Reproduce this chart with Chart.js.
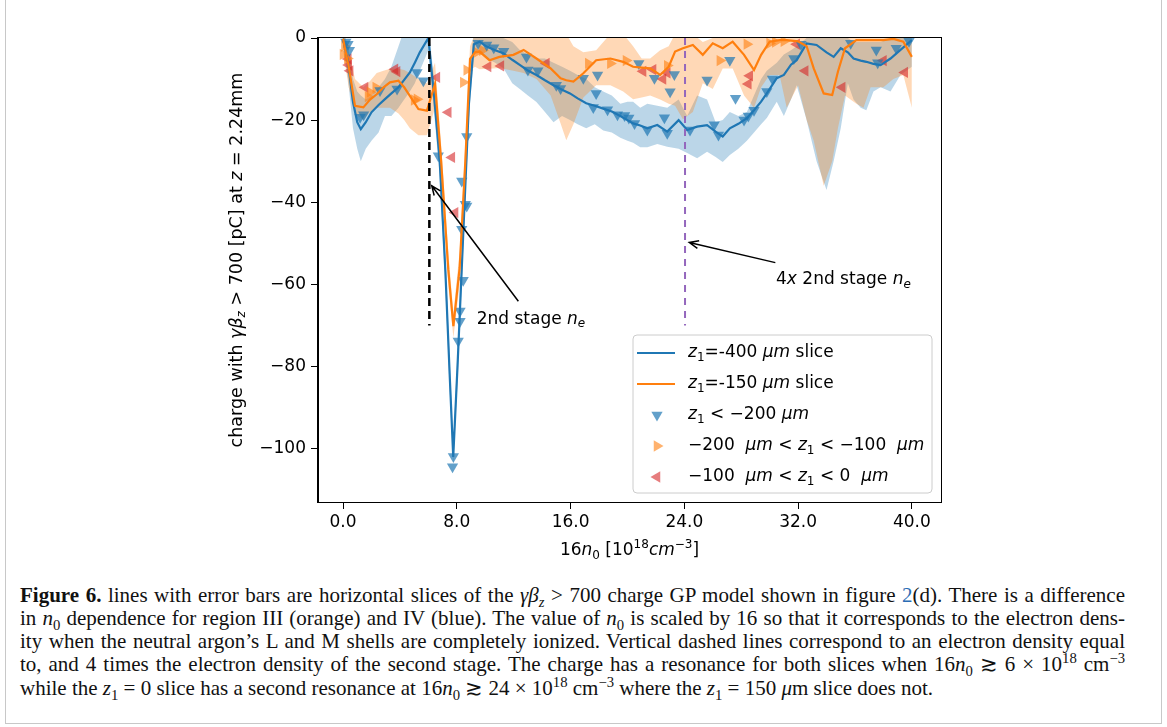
<!DOCTYPE html>
<html>
<head>
<meta charset="utf-8">
<script src="https://cdn.jsdelivr.net/npm/chart.js@4.4.0/dist/chart.umd.min.js"></script>
<style>
  body { margin: 0; background: #fff; width: 1167px; height: 727px; position: relative; overflow: hidden; }
  #frame { position: absolute; left: 5px; top: -3px; width: 1155px; height: 725px; border: 1px solid #c8c8c8; }
  #chart { position: absolute; left: 0; top: 0; }
  .cap { position: absolute; left: 20px; width: 1105px; font-family: 'Liberation Serif', 'Times New Roman', serif;
         font-size: 21px; line-height: 23px; color: #111; text-align: justify; text-align-last: justify; white-space: nowrap; }
  .cap.last { text-align-last: left; }
  .cap sub, .cap sup { font-size: 70%; line-height: 0; }
  .cap a { color: #2a6cb4; text-decoration: none; }
</style>
</head>
<body>
<div id="frame"></div>
<canvas id="chart" width="1167" height="580"></canvas>

<div class="cap" style="top:584px"><b>Figure 6.</b> lines with error bars are horizontal slices of the <i>γβ<sub>z</sub></i> &gt; 700 charge GP model shown in figure <a>2</a>(d). There is a difference</div>
<div class="cap" style="top:607px">in <i>n</i><sub>0</sub> dependence for region III (orange) and IV (blue). The value of <i>n</i><sub>0</sub> is scaled by 16 so that it corresponds to the electron dens-</div>
<div class="cap" style="top:630px">ity when the neutral argon’s L and M shells are completely ionized. Vertical dashed lines correspond to an electron density equal</div>
<div class="cap" style="top:653px">to, and 4 times the electron density of the second stage. The charge has a resonance for both slices when 16<i>n</i><sub>0</sub> ≳ 6 × 10<sup>18</sup> cm<sup>−3</sup></div>
<div class="cap last" style="top:677px">while the <i>z</i><sub>1</sub> = 0 slice has a second resonance at 16<i>n</i><sub>0</sub> ≳ 24 × 10<sup>18</sup> cm<sup>−3</sup> where the <i>z</i><sub>1</sub> = 150 <i>μ</i>m slice does not.</div>

<script>
// tick values
const xTicks = [0, 8, 16, 24, 32, 40];
const yTicks = [0, -20, -40, -60, -80, -100];

// z1 = -400 um slice (blue): x, line, lower and upper error band
const blueX = [0.0, 0.35, 0.7, 1.0, 1.25, 1.6, 2.0, 2.5, 2.95, 3.4, 3.9, 4.3, 4.7, 5.05, 5.4, 6.0, 6.4, 6.8, 7.2, 7.5, 7.75,
  8.05, 8.35, 8.6, 8.85, 9.2, 9.6, 10.1, 10.7, 11.27, 11.9, 12.45, 13.0, 13.6, 14.2, 14.8, 15.4, 15.96, 16.5, 17.1, 17.7,
  18.3, 18.9, 19.5, 20.0, 20.4, 20.9, 21.4, 22.1, 22.8, 23.6, 24.2, 24.9, 25.6, 26.2, 26.7, 27.2, 27.8, 28.4, 28.9, 29.4,
  29.8, 30.5, 31.0, 31.5, 31.9, 32.6, 33.3, 34.0, 34.5, 35.0, 35.5, 35.9, 36.4, 36.8, 37.3, 37.8, 38.5, 39.2, 40.0];
const blueLine = [-0.2, -5.9, -15.6, -20.5, -22.2, -20.5, -18.1, -16.3, -14.9, -13.5, -12.0, -10.2, -8.4, -6.0, -3.5, 0, -14, -30, -57, -82, -102,
  -80, -56, -36, -16, -1.5, -0.9, -2.1, -3.0, -3.7, -5.3, -6.6, -7.9, -9.0, -10.3, -11.5, -12.6, -13.5, -14.7, -15.9, -16.5,
  -17.2, -17.9, -19.0, -20.0, -20.8, -21.3, -22.0, -21.2, -22.8, -20.0, -22.4, -21.6, -21.2, -22.8, -24.0, -22.0, -20.9, -19.5, -17.6, -15.5,
  -13.5, -9.8, -9.0, -6.5, -5.4, -1.3, -1.7, -3.5, -4.6, -2.5, -3.5, -5.0, -5.5, -5.8, -6.3, -6.6, -5.0, -2.9, -0.5];
const blueLow = [-2, -10, -22, -27, -30, -27, -25, -23, -19, -19, -17, -15, -13, -11, -8, -3, -18, -34, -61, -86, -104,
  -84, -60, -40, -20, -4, -3, -5, -6, -7.3, -11, -12.5, -14, -15.6, -18, -20.5, -19, -20, -21, -22, -21,
  -22.5, -23, -24.3, -25, -25.5, -26.6, -26.6, -25.8, -26.5, -27, -28, -29.3, -27.7, -29, -30.2, -28.5, -27, -25, -23, -21,
  -19.5, -15.5, -19, -15, -11.5, -20, -30, -37, -30, -22, -11, -15, -17, -17.6, -13, -12, -13, -9, -7];
const blueHigh = [2, -2, -10, -13, -14, -15, -14, -12, -10, -7, -2, 2, 2, 2, 2, 3, -10, -26, -53, -78, -99,
  -76, -52, -32, -12, 2, 2, 1, 0, 0, -1, -3, -4, -5, -5, -6, -7, -8, -9, -10, -12,
  -13, -14, -16, -15.5, -15.5, -17, -16, -16.5, -17, -15, -19, -14, -15, -20.5, -20, -18, -19, -18, -14, -10,
  -8, -6, -4, -3, -2, 0, 0, 0, 0, 0, 0, -1, -1, -1, -1, -1, 0, 2, 3];

// z1 = -150 um slice (orange)
const orangeX = [0.0, 0.4, 0.84, 1.43, 1.9, 2.37, 2.85, 3.3, 3.9, 4.3, 4.7, 5.3, 5.9, 6.47, 6.9, 7.4, 7.76, 8.2, 8.6, 8.93,
  9.28, 9.6, 10.3, 11.0, 11.98, 12.7, 13.6, 14.6, 15.3, 15.7, 16.2, 16.9, 17.8, 18.8, 19.7, 20.4, 21.0, 21.6, 22.3, 22.9,
  23.35, 23.9, 24.6, 25.3, 26.0, 26.7, 27.4, 28.2, 28.9, 29.4, 30.0, 30.7, 31.2, 32.0, 32.6, 33.1, 33.8, 34.4, 34.8, 35.3,
  36.1, 36.6, 37.1, 38.0, 38.7, 39.4, 40.0];
const orangeLine = [-0.2, -7, -16.5, -16.9, -15, -13.7, -12, -10.8, -10.4, -12, -14.1, -17.3, -17.7, -11.2, -30, -56.3, -70.2, -56, -30, -5.1,
  -3.5, -3.3, -5.4, -4.6, -4.1, -2.9, -5.0, -7.4, -9.8, -10.3, -10.6, -8.6, -5.4, -5.0, -5.8, -7.0, -7.2, -7.4, -9.0, -7.0,
  -3.3, -2.5, -1.7, -4.1, -1.3, -2.5, -0.9, -4.1, -7.8, -4.1, -0.9, -0.5, -0.5, -0.8, -2, -7.4, -13.5, -13.9, -8.2, -2.5,
  -0.5, -0.5, -0.5, -0.5, -0.2, -0.9, -4.6];
const orangeLow = [-3, -12, -18.5, -20, -18, -17, -17, -17, -18.4, -20, -22, -23.7, -23.7, -17, -34, -60, -73, -60, -34, -8,
  -7, -7.6, -7.5, -7.3, -8, -8.5, -10, -14, -20.8, -24.9, -21, -14.5, -11.5, -11.5, -13, -14.9, -14.5, -14, -15, -16,
  -16.5, -19.8, -18, -11, -12.4, -7.4, -7.4, -14, -17, -12, -9, -9, -17, -11.5, -20, -25, -36, -30, -22, -14,
  -16, -17, -12, -12, -10, -9, -17];
const orangeHigh = [2, -3, -10, -12, -10.5, -8.5, -8, -7.5, -7.5, -7.8, -8.5, -10, -11, -6, -26, -52, -67, -52, -26, -2,
  1, 1, 1, 1, 1, 1, 1, 1, 1, 1, -2, -3.5, -3, 1, 1, -2, -5, -5, -3, -2,
  1, 1, 1, -1, 0, 1, 1, 1, 1, 1, 1, 1, 1, 1, 1, 1, 0, 0, 1, 1,
  1, 1, 1, 1, 1, 1, 1];

// markers: z1 < -200 um (down triangles)
const downX = [0.2, 0.35, 0.45, 1.2, 1.45, 2.6, 3.8, 5.2, 5.65, 6.7, 7.7, 7.76, 8.1, 8.23, 8.23, 8.35, 8.45, 8.6, 8.7, 8.7, 8.35,
  9.5, 10.1, 10.6, 11.3, 12.9, 13.0, 13.7, 15.0, 15.3, 16.9, 17.6, 17.8, 17.9, 18.6, 19.3, 19.8, 20.1,
  20.8, 20.5, 21.4, 21.9, 22.6, 22.8, 23.0, 23.3, 24.4, 25.6, 26.1, 26.4, 27.2, 27.6, 28.2, 28.5, 28.9, 29.8, 30.2,
  31.7, 32.2, 35.7, 37.5, 37.6, 38.9, 39.8];
const downY = [-1, -1.5, -3, -19.3, -18.7, -12.8, -12.4, -8.4, -10.4, -28.7, -104.4, -101.9, -73.8, -69, -66.5, -46.6, -59, -40.5, -40.9, -24, -34.8,
  -1.3, -1.7, -2.4, -3.2, -4.6, -7.8, -8.0, -11.5, -12.3, -9.8, -16.9, -13.5, -9.0, -17.5, -18.7, -18.9, -19.5,
  -6.2, -20.8, -22.4, -9.8, -19.4, -23.2, -13.1, -8.9, -22.4, -10.2, -21.1, -23.6, -5.4, -14.7, -20, -19, -17.6, -13, -10,
  -5.0, -1.5, -1.3, -2.9, -6, -2.5, -0.8];

// markers: -200 um < z1 < -100 um (right triangles)
const rightX = [0.0, 0.1, 0.3, 1.76, 1.9, 2.3, 5.0, 5.2, 8.46, 8.7, 9.4, 9.8, 17.25, 18.8, 19.9, 22.8, 26.5, 28.4, 30.0, 30.4, 31.0];
const rightY = [-4, -2, -5, -14.3, -13.2, -12, -15.1, -14.9, -10.8, -7.8, -3.5, -3, -6.2, -6.2, -5.5, -6.7, -5.5, -1.5, -1.3, -1, -0.8];

// markers: -100 um < z1 < 0 um (left triangles)
const leftX = [0.37, 0.4, 0.5, 1.55, 3.65, 3.8, 6.6, 7.4, 7.65, 7.88, 10.2, 11.1, 14.3, 21.1, 21.8, 22.5, 22.8, 28.5, 28.6, 31.9, 32.5, 35.1, 38.0, 39.5];
const leftY = [-5.1, -6.6, -8, -12, -7.6, -8.2, -9.6, -18.1, -29.1, -42.5, -7, -6.8, -6.2, -8.1, -7.7, -10, -8.5, -11.2, -9.2, -1.5, -8.0, -12, -5.5, -8.4];

// vertical reference lines and annotations (data coords)
const refLines = [
  { x: 6.07, y0: 0, y1: -70, color: '#000000', width: 2.5, dash: [8, 5] },
  { x: 24.05, y0: 0, y1: -70, color: '#9467bd', width: 2, dash: [7, 6] }
];
const notes = [
  { head: [6.24, -36.0], tail: [12.33, -64.1], at: [9.4, -68.5],
    text: [['2nd stage ', ''], ['n', 'i'], ['e', 'is']] },
  { head: [24.35, -49.8], tail: [30.4, -54.7], at: [30.45, -58.8],
    text: [['4', ''], ['x', 'i'], [' 2nd stage ', ''], ['n', 'i'], ['e', 'is']] }
];

const BLUE = '#1f77b4', ORANGE = '#ff7f0e', RED = '#d62728';
const FONT = "'DejaVu Sans', sans-serif";
const FS = 17;

function pts(xs, ys) {
  return xs.map((x, i) => ({ x: x, y: ys[i] }));
}

// text with italic / sub / superscript pieces
function partFont(style, size) {
  const small = style.indexOf('s') >= 0 || style.indexOf('p') >= 0;
  const it = style.indexOf('i') >= 0 ? 'italic ' : '';
  return it + (small ? Math.round(size * 0.7) : size) + 'px ' + FONT;
}
function richWidth(ctx, parts, size) {
  let w = 0;
  parts.forEach(p => { ctx.font = partFont(p[1], size); w += ctx.measureText(p[0]).width; });
  return w;
}
function drawRich(ctx, parts, x, y, size, align) {
  let cx = align === 'center' ? x - richWidth(ctx, parts, size) / 2 : x;
  ctx.textBaseline = 'middle';
  ctx.textAlign = 'left';
  parts.forEach(p => {
    ctx.font = partFont(p[1], size);
    let dy = 0;
    if (p[1].indexOf('s') >= 0) dy = size * 0.3;
    if (p[1].indexOf('p') >= 0) dy = -size * 0.35;
    ctx.fillText(p[0], cx, y + dy);
    cx += ctx.measureText(p[0]).width;
  });
}

function triangle(ctx, x, y, r, rot, color) {
  ctx.save();
  ctx.translate(x, y);
  ctx.rotate(rot * Math.PI / 180);
  ctx.beginPath();
  ctx.moveTo(0, -r);
  ctx.lineTo(r * 0.866, r * 0.5);
  ctx.lineTo(-r * 0.866, r * 0.5);
  ctx.closePath();
  ctx.fillStyle = color;
  ctx.fill();
  ctx.restore();
}

const legendItems = [
  { kind: 'line', color: BLUE, text: [['z', 'i'], ['1', 's'], ['=-400 ', ''], ['μm', 'i'], [' slice', '']] },
  { kind: 'line', color: ORANGE, text: [['z', 'i'], ['1', 's'], ['=-150 ', ''], ['μm', 'i'], [' slice', '']] },
  { kind: 'mark', rot: 180, color: 'rgba(31,119,180,0.7)', text: [['z', 'i'], ['1', 's'], [' < −200 ', ''], ['μm', 'i']] },
  { kind: 'mark', rot: 90, color: 'rgba(255,127,14,0.6)', text: [['−200  ', ''], ['μm', 'i'], [' < ', ''], ['z', 'i'], ['1', 's'], [' < −100  ', ''], ['μm', 'i']] },
  { kind: 'mark', rot: -90, color: 'rgba(214,39,40,0.6)', text: [['−100  ', ''], ['μm', 'i'], [' < ', ''], ['z', 'i'], ['1', 's'], [' < 0  ', ''], ['μm', 'i']] }
];

const overlay = {
  id: 'overlay',
  afterDatasetsDraw(chart) {
    const ctx = chart.ctx, xs = chart.scales.x, ys = chart.scales.y, a = chart.chartArea;
    ctx.save();
    ctx.beginPath();
    ctx.rect(a.left, a.top, a.right - a.left, a.bottom - a.top);
    ctx.clip();
    // dashed reference lines
    refLines.forEach(l => {
      ctx.beginPath();
      ctx.setLineDash(l.dash);
      ctx.strokeStyle = l.color;
      ctx.lineWidth = l.width;
      ctx.moveTo(xs.getPixelForValue(l.x), ys.getPixelForValue(l.y0));
      ctx.lineTo(xs.getPixelForValue(l.x), ys.getPixelForValue(l.y1));
      ctx.stroke();
    });
    ctx.setLineDash([]);
    // annotations with arrows
    notes.forEach(n => {
      const hx = xs.getPixelForValue(n.head[0]), hy = ys.getPixelForValue(n.head[1]);
      const tx = xs.getPixelForValue(n.tail[0]), ty = ys.getPixelForValue(n.tail[1]);
      const ang = Math.atan2(hy - ty, hx - tx);
      ctx.strokeStyle = '#000';
      ctx.lineWidth = 1.5;
      ctx.beginPath();
      ctx.moveTo(tx, ty);
      ctx.lineTo(hx, hy);
      ctx.moveTo(hx - 10 * Math.cos(ang - 0.4), hy - 10 * Math.sin(ang - 0.4));
      ctx.lineTo(hx, hy);
      ctx.lineTo(hx - 10 * Math.cos(ang + 0.4), hy - 10 * Math.sin(ang + 0.4));
      ctx.stroke();
      ctx.fillStyle = '#000';
      drawRich(ctx, n.text, xs.getPixelForValue(n.at[0]), ys.getPixelForValue(n.at[1]), FS, 'left');
    });
    ctx.restore();
  },
  afterDraw(chart) {
    const ctx = chart.ctx, a = chart.chartArea;
    ctx.save();
    // full box around the axes
    ctx.strokeStyle = '#000';
    ctx.lineWidth = 1;
    ctx.strokeRect(Math.round(a.left) - 0.5, Math.round(a.top) - 0.5, a.right - a.left + 1, a.bottom - a.top + 1);

    // legend, lower right
    const bw = 299, bh = 158;
    const bx = a.right - 9 - bw, by = a.bottom - 9 - bh;
    ctx.beginPath();
    ctx.roundRect(bx, by, bw, bh, 4);
    ctx.fillStyle = 'rgba(255,255,255,0.85)';
    ctx.fill();
    ctx.strokeStyle = '#cccccc';
    ctx.stroke();
    legendItems.forEach((it, i) => {
      const yy = by + 18 + i * 31;
      if (it.kind === 'line') {
        ctx.strokeStyle = it.color;
        ctx.lineWidth = 2.2;
        ctx.beginPath();
        ctx.moveTo(bx + 4, yy);
        ctx.lineTo(bx + 42, yy);
        ctx.stroke();
      } else {
        triangle(ctx, bx + 24, yy, 6.5, it.rot, it.color);
      }
      ctx.fillStyle = '#000';
      drawRich(ctx, it.text, bx + 55, yy, FS, 'left');
    });

    // axis titles
    ctx.fillStyle = '#000';
    drawRich(ctx, [['16', ''], ['n', 'i'], ['0', 's'], [' [10', ''], ['18', 'p'], ['cm', 'i'], ['−3', 'p'], [']', '']],
      (a.left + a.right) / 2, a.bottom + 49, FS, 'center');
    ctx.translate(237, (a.top + a.bottom) / 2 - 10);
    ctx.rotate(-Math.PI / 2);
    drawRich(ctx, [['charge with ', ''], ['γβ', 'i'], ['z', 'is'], [' > 700 [pC] at ', ''], ['z', 'i'], [' = 2.24mm', '']],
      0, 0, 17.5, 'center');
    ctx.restore();
  }
};

const bandStyle = { borderWidth: 0, pointRadius: 0, showLine: true, tension: 0 };
const markStyle = { showLine: false, pointStyle: 'triangle', pointRadius: 6.5, pointBorderWidth: 0 };

new Chart(document.getElementById('chart').getContext('2d'), {
  type: 'line',
  data: {
    datasets: [
      Object.assign({ data: pts(blueX, blueHigh), fill: false, order: 6 }, bandStyle),
      Object.assign({ data: pts(blueX, blueLow), fill: '-1', backgroundColor: 'rgba(31,119,180,0.3)', order: 6 }, bandStyle),
      Object.assign({ data: pts(orangeX, orangeHigh), fill: false, order: 5 }, bandStyle),
      Object.assign({ data: pts(orangeX, orangeLow), fill: '-1', backgroundColor: 'rgba(255,127,14,0.3)', order: 5 }, bandStyle),
      Object.assign({ data: pts(downX, downY), pointRotation: 180, pointBackgroundColor: 'rgba(31,119,180,0.7)', order: 3 }, markStyle),
      Object.assign({ data: pts(rightX, rightY), pointRotation: 90, pointBackgroundColor: 'rgba(255,127,14,0.6)', order: 3 }, markStyle),
      Object.assign({ data: pts(leftX, leftY), pointRotation: -90, pointBackgroundColor: 'rgba(214,39,40,0.6)', order: 3 }, markStyle),
      { data: pts(blueX, blueLine), borderColor: BLUE, borderWidth: 2.2, pointRadius: 0, fill: false, tension: 0, order: 2 },
      { data: pts(orangeX, orangeLine), borderColor: ORANGE, borderWidth: 2.2, pointRadius: 0, fill: false, tension: 0, order: 1 }
    ]
  },
  options: {
    responsive: false,
    animation: false,
    devicePixelRatio: 1,
    events: [],
    layout: { padding: { left: 228, right: 226, top: 38, bottom: 18 } },
    plugins: { legend: { display: false }, tooltip: { enabled: false } },
    scales: {
      x: {
        type: 'linear',
        min: -1.76,
        max: 42.05,
        afterBuildTicks: axis => { axis.ticks = xTicks.map(v => ({ value: v })); },
        afterFit: axis => { axis.height = 60; },
        ticks: { color: '#000', font: { family: FONT, size: FS }, padding: 3, maxRotation: 0,
                 callback: v => v.toFixed(1) },
        grid: { drawOnChartArea: false, tickLength: 7, tickColor: '#000' },
        border: { color: '#000', width: 1 }
      },
      y: {
        min: -113,
        max: 0,
        afterBuildTicks: axis => { axis.ticks = yTicks.map(v => ({ value: v })); },
        afterFit: axis => { axis.width = 90; },
        ticks: { color: '#000', font: { family: FONT, size: FS }, padding: 5,
                 callback: v => v === 0 ? '0' : '−' + Math.abs(v) },
        grid: { drawOnChartArea: false, tickLength: 7, tickColor: '#000' },
        border: { color: '#000', width: 1 }
      }
    }
  },
  plugins: [overlay]
});
</script>
</body>
</html>
